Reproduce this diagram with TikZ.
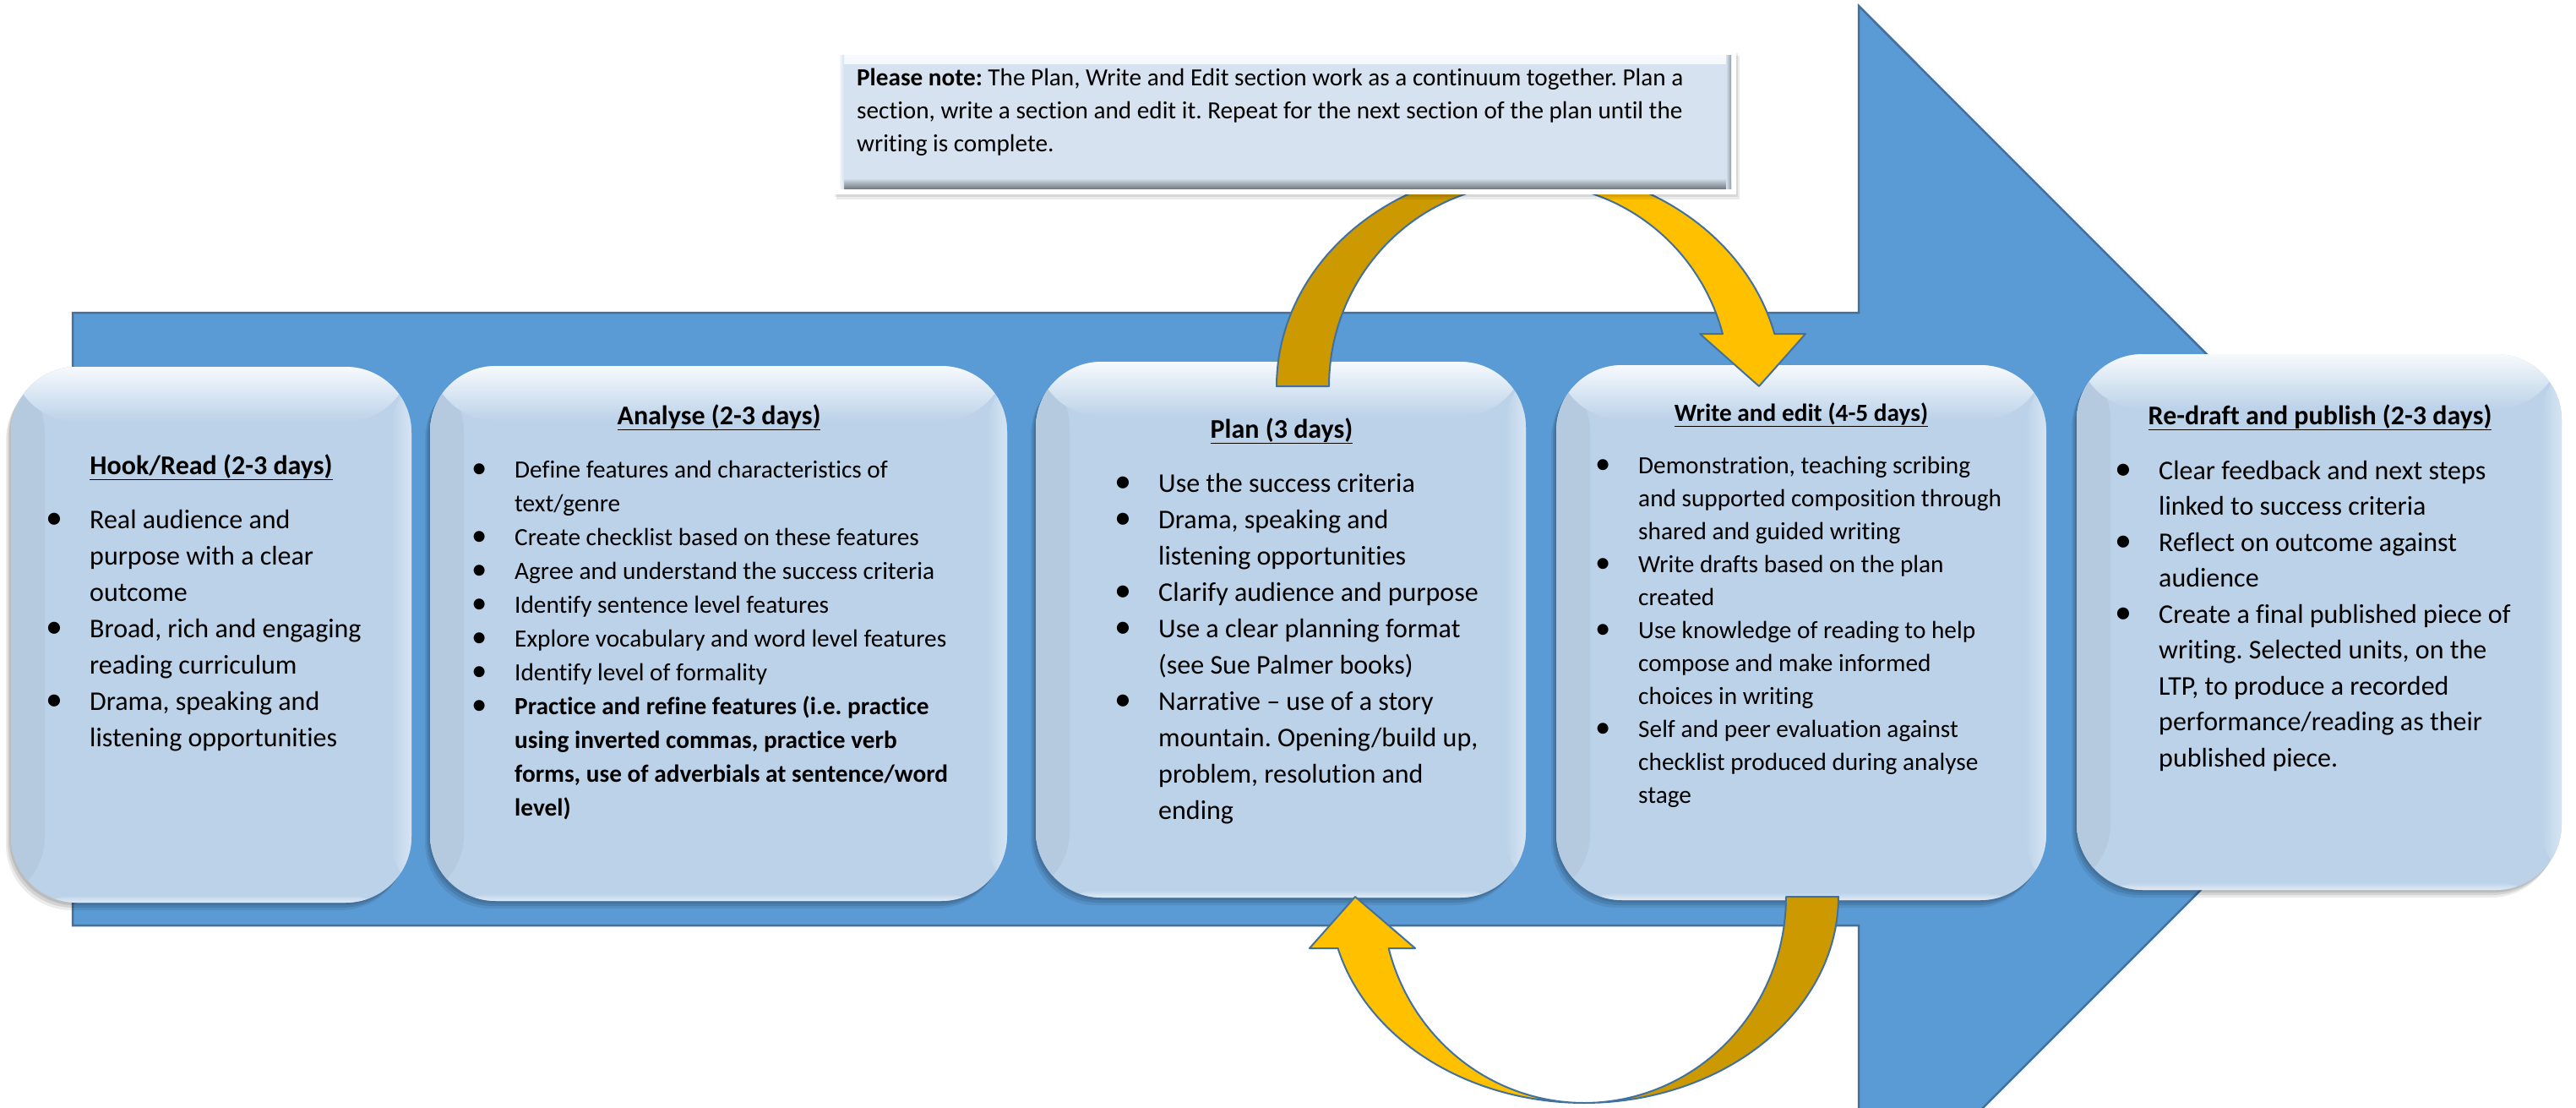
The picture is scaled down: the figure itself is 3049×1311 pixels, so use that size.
\documentclass[tikz,border=0pt]{standalone}
\usepackage{fontspec}
\setmainfont{Carlito}[Ligatures=NoCommon]
\usetikzlibrary{shadows}
\definecolor{arrowblue}{HTML}{5B9BD5}
\definecolor{edgeblue}{HTML}{41719C}
\definecolor{boxfill}{RGB}{187,210,233}
\definecolor{golddark}{HTML}{CC9900}
\definecolor{goldlight}{HTML}{FFC000}
\definecolor{notefill}{HTML}{D6E2EF}
\newcommand\bul{\llap{\makebox[84pt][c]{\scalebox{1.25}{\textbullet}}}}
\newcommand\fs[2]{\fontsize{#1pt}{#2pt}\selectfont}
\frenchspacing
\begin{document}
\begin{tikzpicture}[x=1pt,y=-1pt,
  stagebox/.style={rounded corners=78pt, fill=boxfill, inner sep=0pt, draw=none,
    general shadow={fill=black, opacity=0.10, shadow xshift=-2pt, shadow yshift=-3pt},
    general shadow={fill=black, opacity=0.10, shadow xshift=-4pt, shadow yshift=-6pt},
    general shadow={fill=black, opacity=0.08, shadow xshift=-6pt, shadow yshift=-9pt},
    path picture={
      \shade[left color=boxfill!90!gray, right color=boxfill] (path picture bounding box.north west) rectangle ([xshift=40pt]path picture bounding box.south west);
      \shade[left color=boxfill, right color=boxfill!60!white] ([xshift=-25pt]path picture bounding box.north east) rectangle (path picture bounding box.south east);
      \shade[top color=boxfill, bottom color=boxfill!45!white] ([yshift=9pt]path picture bounding box.south west) rectangle (path picture bounding box.south east);
      \shade[top color=white!88!boxfill, bottom color=boxfill] (path picture bounding box.north west) rectangle ([yshift=-65pt]path picture bounding box.north east);
    }},
  titletext/.style={anchor=base, inner sep=0pt},
  listtext/.style={anchor=base west, inner sep=0pt},
  goldedge/.style={draw=edgeblue, line width=2pt, line join=round},
  noteframe/.style={fill=white, inner sep=0pt, draw=none,
    general shadow={fill=black, opacity=0.08, shadow xshift=2pt, shadow yshift=-3pt},
    general shadow={fill=black, opacity=0.08, shadow xshift=4pt, shadow yshift=-6pt}},
  noteinner/.style={fill=notefill, inner sep=0pt, draw=none,
    path picture={
      \shade[top color=white!80!notefill, bottom color=notefill] (path picture bounding box.north west) rectangle ([yshift=-10pt]path picture bounding box.north east);
      \shade[top color=notefill, bottom color=black!45!notefill] ([yshift=12pt]path picture bounding box.south west) rectangle (path picture bounding box.south east);
      \shade[left color=notefill, right color=black!30!notefill] ([xshift=-6pt]path picture bounding box.north east) rectangle (path picture bounding box.south east);
      \shade[left color=white!70!notefill, right color=notefill] (path picture bounding box.north west) rectangle ([xshift=5pt]path picture bounding box.south west);
    }}
]
\useasboundingbox (0,0) rectangle (3049,1311);
\clip (0,0) rectangle (3049,1311);
\fill[white] (0,0) rectangle (3049,1311);

% big blue arrow
\draw[fill=arrowblue, draw=edgeblue, line width=2.5pt, line join=miter]
  (86,370) -- (2200,370) -- (2200,7) -- (2925,732.5) -- (2200,1458) -- (2200,1095) -- (86,1095) -- cycle;

% stage boxes
\node[stagebox, minimum width=474pt, minimum height=634pt] (hook) at (250,751) {};
\node[stagebox, minimum width=683pt, minimum height=633pt] (analyse) at (850.5,749.5) {};
\node[stagebox, minimum width=580pt, minimum height=634pt] (plan) at (1516,745) {};
\node[stagebox, minimum width=580pt, minimum height=633pt] (write) at (2132,748.5) {};
\node[stagebox, minimum width=574pt, minimum height=634pt] (publish) at (2745,736) {};

% top curved arrow: dark back part (from Plan box)
\draw[goldedge, fill=golddark]
  plot[domain=180:90, samples=50, variable=\t] ({1810+299*cos(\t)},{457-259*sin(\t)})
  -- (1810,217)
  -- plot[domain=90:180, samples=50, variable=\t] ({1810+237*cos(\t)},{457-240*sin(\t)})
  -- cycle;
% top curved arrow: light front part with head (to Write box)
\draw[goldedge, fill=goldlight]
  plot[domain=90:13.85, samples=50, variable=\t] ({1810+299*cos(\t)},{457-259*sin(\t)})
  -- (2137,395) -- (2082,457) -- (2012,395)
  -- plot[domain=14.97:90, samples=50, variable=\t] ({1810+237*cos(\t)},{457-240*sin(\t)})
  -- cycle;

% bottom curved arrow: dark back part (from Write box)
\draw[goldedge, fill=golddark]
  plot[domain=0:90, samples=50, variable=\t] ({1875+301*cos(\t)},{1061+244*sin(\t)})
  -- plot[domain=90:0, samples=50, variable=\t] ({1875+239*cos(\t)},{1061+244*sin(\t)})
  -- cycle;
% bottom curved arrow: light front part with head (to Plan box)
\draw[goldedge, fill=goldlight]
  plot[domain=90:165.5, samples=50, variable=\t] ({1875+301*cos(\t)},{1061+244*sin(\t)})
  -- (1550,1122) -- (1604,1061) -- (1675,1122)
  -- plot[domain=165.5:90, samples=50, variable=\t] ({1875+239*cos(\t)},{1061+244*sin(\t)})
  -- cycle;

% note box
\node[noteframe, minimum width=1069pt, minimum height=170pt] (noteout) at (1520.5,145) {};
\node[noteinner, minimum width=1055pt, minimum height=157pt] (notein) at (1521.5,144.5) {};
\node[listtext, font=\fs{29.2}{39}] (notetext) at (1014,102) {\begin{tabular}[t]{@{}l@{}}
\textbf{Please note:} The Plan, Write and Edit section work as a continuum together. Plan a\\
section, write a section and edit it. Repeat for the next section of the plan until the\\
writing is complete.\end{tabular}};

% titles
\node[titletext, font=\fs{32}{43}\bfseries] (hooktitle) at (250,561) {\underline{Hook/Read (2-3 days)}};
\node[titletext, font=\fs{32}{43}\bfseries] (analysetitle) at (851,502) {\underline{Analyse (2-3 days)}};
\node[titletext, font=\fs{32}{43}\bfseries] (plantitle) at (1517,518) {\underline{Plan (3 days)}};
\node[titletext, font=\fs{29.3}{39}\bfseries] (writetitle) at (2132,498) {\underline{Write and edit (4-5 days)}};
\node[titletext, font=\fs{32}{43}\bfseries] (publishtitle) at (2746,502) {\underline{Re-draft and publish (2-3 days)}};

% lists
\node[listtext, font=\fs{32}{43}] (hooklist) at (106,625) {\begin{tabular}[t]{@{}l@{}}
\bul Real audience and\\
purpose with a clear\\
outcome\\
\bul Broad, rich and engaging\\
reading curriculum\\
\bul Drama, speaking and\\
listening opportunities\end{tabular}};

\node[listtext, font=\fs{29.3}{40}] (analyselist) at (609,565) {\begin{tabular}[t]{@{}l@{}}
\bul Define features and characteristics of\\
text/genre\\
\bul Create checklist based on these features\\
\bul Agree and understand the success criteria\\
\bul Identify sentence level features\\
\bul Explore vocabulary and word level features\\
\bul Identify level of formality\\
\bul \textbf{Practice and refine features (i.e. practice}\\
\textbf{using inverted commas, practice verb}\\
\textbf{forms, use of adverbials at sentence/word}\\
\textbf{level)}\end{tabular}};

\node[listtext, font=\fs{32}{43}] (planlist) at (1371,582) {\begin{tabular}[t]{@{}l@{}}
\bul Use the success criteria\\
\bul Drama, speaking and\\
listening opportunities\\
\bul Clarify audience and purpose\\
\bul Use a clear planning format\\
(see Sue Palmer books)\\
\bul Narrative -- use of a story\\
mountain. Opening/build up,\\
problem, resolution and\\
ending\end{tabular}};

\node[listtext, font=\fs{29.3}{39}] (writelist) at (1939,560) {\begin{tabular}[t]{@{}l@{}}
\bul Demonstration, teaching scribing\\
and supported composition through\\
shared and guided writing\\
\bul Write drafts based on the plan\\
created\\
\bul Use knowledge of reading to help\\
compose and make informed\\
choices in writing\\
\bul Self and peer evaluation against\\
checklist produced during analyse\\
stage\end{tabular}};

\node[listtext, font=\fs{32}{42.5}] (publishlist) at (2555,567) {\begin{tabular}[t]{@{}l@{}}
\bul Clear feedback and next steps\\
linked to success criteria\\
\bul Reflect on outcome against\\
audience\\
\bul Create a final published piece of\\
writing. Selected units, on the\\
LTP, to produce a recorded\\
performance/reading as their\\
published piece.\end{tabular}};
\end{tikzpicture}
\end{document}
